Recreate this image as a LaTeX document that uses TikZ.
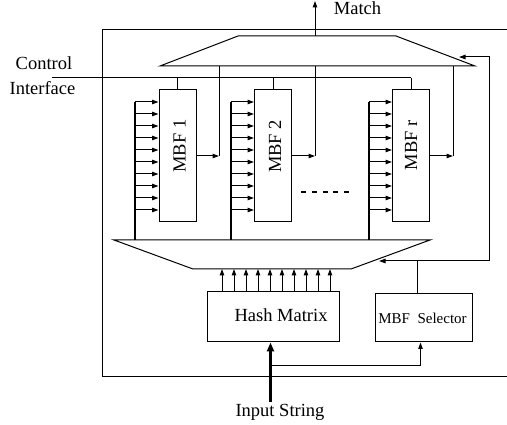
\documentclass[tikz,border=0pt]{standalone}
\usepackage{fontspec}
\setmainfont{Liberation Serif}
\usetikzlibrary{arrows.meta}
\begin{document}
\begin{tikzpicture}[x=1pt,y=-1pt,line width=1pt,
  >={Triangle[length=6.5pt,width=4.5pt]},
  mbf/.style={draw,minimum width=37pt,minimum height=132pt,inner sep=0pt},
  blk/.style={draw,inner sep=0pt},
  lbl/.style={font=\fontsize{18.5}{20}\selectfont,inner sep=0pt},
  small/.style={font=\fontsize{15}{17}\selectfont,inner sep=0pt},
  bus/.style={line width=1.7pt},
  thick arrow/.style={line width=2.3pt,-{Triangle[length=9pt,width=7pt]}}]
\useasboundingbox (0,0) rectangle (507,425);

% outer frame (right side runs past the picture)
\draw (507,30) -| (102,377) -- (507,377);

% top trapezoid (combiner)
\coordinate (tl) at (160,66); \coordinate (ta) at (238,36);
\coordinate (tb) at (396,36); \coordinate (tr) at (475,66);
\draw (tl) -- (ta) -- (tb) -- (tr) -- cycle;

% Match output
\coordinate (mo) at (315,36);
\coordinate (mt) at (315,1);
\draw[->] (mo) -- (mt);
\node[lbl,anchor=base] (match) at (357.5,15) {Match};

% Control interface
\node[lbl,anchor=base] (ctl) at (44,70) {Control};
\node[lbl,anchor=base] (ifc) at (42.5,95) {Interface};
\coordinate (cs) at (52,78);
\coordinate (ce) at (411,78);
\draw (cs) -- (ce);

% MBF blocks
\node[mbf] (m1) at (177.5,156) {};
\node[mbf] (m2) at (273,156) {};
\node[mbf] (mr) at (411,156) {};
\node[lbl,rotate=90] (m1t) at (179.5,146) {MBF 1};
\node[lbl,rotate=90] (m2t) at (275,146.5) {MBF 2};
\node[lbl,rotate=90] (mrt) at (411,145.5) {MBF r};

\foreach \m in {m1,m2,mr}{\draw (\m.north) -- (\m.north |- cs);}

% outputs to combiner
\coordinate (o1) at (219,156); \coordinate (u1) at (219,66);
\coordinate (o2) at (315,156); \coordinate (u2) at (315,66);
\coordinate (o3) at (453,156); \coordinate (u3) at (453,66);
\draw (u1) -- (o1); \draw (u2) -- (o2); \draw (u3) -- (o3);
\draw[->] (m1.east |- o1) -- (o1);
\draw[->] (m2.east |- o2) -- (o2);
\draw[->] (mr.east |- o3) -- (o3);

% dots between blocks
\coordinate (d1) at (301,192); \coordinate (d2) at (349,192);
\draw[line width=1.8pt,dash pattern=on 5pt off 5.75pt] (d1) -- (d2);

% bottom trapezoid (distributor)
\coordinate (bl) at (114,240); \coordinate (br) at (430,240);
\coordinate (bb) at (351,269); \coordinate (ba) at (193,269);
\draw (bl) -- (br) -- (bb) -- (ba) -- cycle;

% input buses into MBFs
\foreach \xb/\m in {135/m1,231/m2,369/mr}{
  \draw[bus] (\xb,240) -- (\xb,102);
  \foreach \i in {0,...,9}{
    \draw[->] (\xb,102+12*\i) -- (\m.west |- {(0,102+12*\i)});
  }
}

% Hash matrix
\node[blk,minimum width=132pt,minimum height=50pt] (hash) at (273,317) {};
\node[lbl,anchor=base] (hasht) at (281,321.5) {Hash Matrix};
\foreach \i in {0,...,9}{
  \draw[->] (222+12*\i,292) -- (222+12*\i,269);
}

% MBF selector
\node[blk,minimum width=97pt,minimum height=48pt] (sel) at (423.5,318) {};
\node[small,anchor=base] (selt) at (422.5,323.3) {MBF\ \ Selector};

% selector feedback
\coordinate (fj) at (417.5,261);
\coordinate (fc) at (489,261);
\coordinate (ft) at (489,57);
\coordinate (fa) at (459,57);
\coordinate (fb) at (379,261);
\draw (sel.north -| fj) -- (fj);
\draw[->] (fc) -- (fb);
\draw[->] (fc) -- (ft) -- (fa);

% input string
\node[lbl,anchor=base] (inp) at (280,417) {Input String};
\coordinate (is) at (270.5,402);
\coordinate (ib) at (270.5,366);
\draw[thick arrow] (is) -- (hash.south -| is);
\draw[->] (ib) -| (sel.south -| 420.5,0);
\end{tikzpicture}
\end{document}
